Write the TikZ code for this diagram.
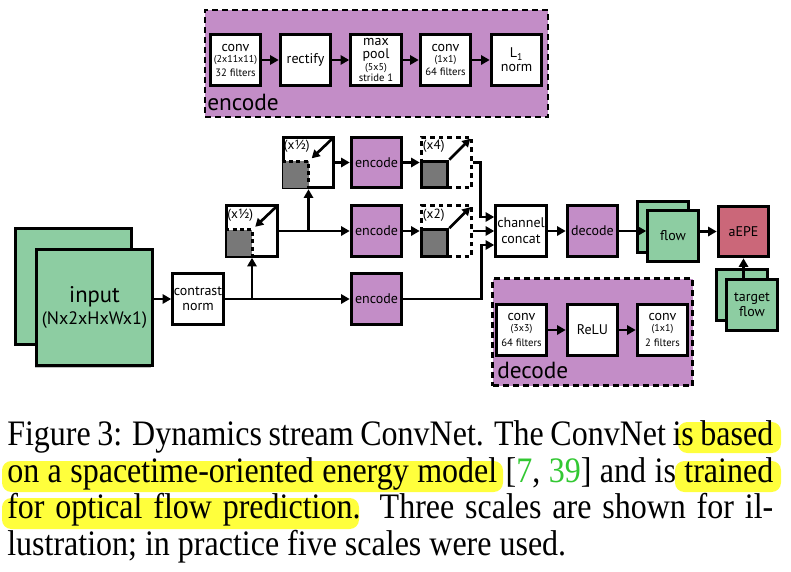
\documentclass[tikz,border=0pt]{standalone}
\usepackage{fontspec}
\setmainfont{PT Sans}
\newfontfamily\capfont{Liberation Serif}
\usetikzlibrary{arrows.meta,shadows,calc}
\definecolor{encpurple}{RGB}{195,141,199}
\definecolor{flowgreen}{RGB}{141,205,162}
\definecolor{epered}{RGB}{203,103,121}
\definecolor{boxgray}{RGB}{120,120,120}
\definecolor{hilite}{RGB}{255,255,60}
\definecolor{citegreen}{RGB}{50,200,50}
\newcommand{\partxt}[1]{{\fontsize{7.5}{7.5}\selectfont #1}}
\newcommand{\filtxt}[1]{{\fontsize{8}{8}\selectfont #1}}
\newcommand{\capscale}[1]{\scalebox{1}[1.12]{#1}}
\begin{document}
\begin{tikzpicture}[x=0.75pt,y=-0.75pt,
  box/.style={draw=black, line width=2.2pt, fill=white, minimum width=38pt, minimum height=38pt,
    inner sep=0pt, align=center, font=\fontsize{10.5}{11}\selectfont},
  pbox/.style={box, fill=encpurple},
  gbox/.style={box, fill=flowgreen},
  rbox/.style={box, fill=epered},
  groupbox/.style={draw=black, fill=encpurple, line width=2.2pt, dash pattern=on 4.5pt off 3pt, inner sep=0pt},
  upbox/.style={box, dash pattern=on 3.5pt off 3pt},
  graysq/.style={draw=black, line width=2.2pt, fill=boxgray, minimum size=20pt, inner sep=0pt},
  biglabel/.style={inner sep=0pt, font=\fontsize{17.5}{17.5}\selectfont},
  scalelabel/.style={inner sep=0pt, font=\fontsize{10}{10}\selectfont},
  conn/.style={line width=2pt, -{Triangle[length=6.5pt,width=7pt]}},
  diag/.style={line width=2pt, -{Triangle[length=6pt,width=6.5pt]}},
  shad/.style={drop shadow={shadow xshift=-1.5pt, shadow yshift=-1.5pt, opacity=0.25, fill=black}},
  hl/.style={fill=hilite, rounded corners=7pt},
  capline/.style={inner sep=0pt, anchor=base west, font=\capfont\fontsize{24}{27.5}\selectfont}
]
\useasboundingbox (0,0) rectangle (791,571);
\fill[white] (0,0) rectangle (791,571);

% ---------------- encode group ----------------
\node[groupbox, minimum width=257.25pt, minimum height=80.25pt] (encgrp) at (376.5,63.5) {};
\node[biglabel, anchor=base west] (enclbl) at (207,110) {encode};
\node[box] (e1) at (235.5,60) {conv\\[-2.75pt]\partxt{(2x11x11)}\\[-0.5pt]\filtxt{32 filters}};
\node[box] (e2) at (305.5,60) {rectify};
\node[box] (e3) at (376,60) {max\\[-1.5pt]pool\\[-2pt]\partxt{(5x5)}\\[-2.75pt]\filtxt{stride 1}};
\node[box] (e4) at (445.5,60) {conv\\[-2.75pt]\partxt{(1x1)}\\[-1pt]\filtxt{64 filters}};
\node[box] (e5) at (516.5,60) {L\textsubscript{1}\\[-0.5pt]norm};
\draw[conn] (e1) -- (e2);
\draw[conn] (e2) -- (e3);
\draw[conn] (e3) -- (e4);
\draw[conn] (e4) -- (e5);

% ---------------- input ----------------
\node[gbox, minimum size=87pt] (inb) at (73.5,286.5) {};
\node[gbox, shad, minimum size=87pt, font=\fontsize{13.5}{16.5}\selectfont] (inf) at (94.5,307.5)
  {{\fontsize{17}{17}\selectfont input}\\(Nx2xHxWx1)};
\node[box] (cn) at (198,299) {contrast\\[0.25pt]norm};

% ---------------- downscale boxes ----------------
\node[box] (h1) at (308.5,162.5) {};
\node[box] (h2) at (252,231) {};
\foreach \h in {h1,h2}{
  \fill[boxgray] ($(\h.south west)+(1.5,-1.5)$) rectangle ($(\h.south west)+(27,-28)$);
  \draw[line width=2pt, dash pattern=on 3pt off 2.5pt] ($(\h.south west)+(0,-28)$) -- ($(\h.south west)+(27,-28)$) -- ($(\h.south west)+(27,0)$);
  \draw[diag] ($(\h.north east)+(-2,2)$) -- ($(\h.south west)+(30,-31)$);
  \node[scalelabel, anchor=west] at ($(\h.north west)+(2,11)$) {(x½)};
}
\node[pbox] (enc1) at (376.5,162.5) {encode};
\node[pbox] (enc2) at (376.5,231) {encode};
\node[pbox] (enc3) at (376.5,299) {encode};

% ---------------- upscale boxes ----------------
\node[upbox] (u4) at (446.5,162.5) {};
\node[upbox] (u2) at (446.5,231) {};
\node[graysq, anchor=south west] (g4) at (u4.south west) {};
\node[graysq, anchor=south west] (g2) at (u2.south west) {};
\draw[diag] (g4.north east) -- ($(u4.north east)+(-3,3)$);
\draw[diag] (g2.north east) -- ($(u2.north east)+(-3,3)$);
\node[scalelabel, anchor=west] at ($(u4.north west)+(3,11)$) {(x4)};
\node[scalelabel, anchor=west] at ($(u2.north west)+(3,11)$) {(x2)};

% ---------------- right part ----------------
\node[box] (cc) at (521,231) {channel\\[1pt]concat};
\node[pbox] (dec) at (592.5,231) {decode};
\node[gbox] (flb) at (663,227) {};
\node[gbox, shad] (flf) at (673,236) {flow};
\node[rbox] (aepe) at (743.5,231.5) {aEPE};
\node[gbox] (tfb) at (742,295) {};
\node[gbox, shad] (tf) at (752,305) {target\\[0.5pt]flow};

% ---------------- decode group ----------------
\node[groupbox, minimum width=150pt, minimum height=80.25pt] (decgrp) at (592.5,332) {};
\node[biglabel, anchor=base west] (declbl) at (497,378) {decode};
\node[box] (d1) at (521.5,330) {conv\\[-2.75pt]\partxt{(3x3)}\\[0pt]\filtxt{64 filters}};
\node[box] (d2) at (592.5,330) {ReLU};
\node[box] (d3) at (662.5,330) {conv\\[-2.75pt]\partxt{(1x1)}\\[0pt]\filtxt{2 filters}};
\draw[conn] (d1) -- (d2);
\draw[conn] (d2) -- (d3);

% ---------------- connectors ----------------
\draw[conn] (inf.east |- cn.west) -- (cn.west);
\draw[conn] (cn.east) -- (enc3.west);
\draw[conn] (cn.east -| h2.south) -- (h2.south);
\draw[conn] (h2.east) -- (enc2.west);
\draw[conn] (h2.east -| h1.south) -- (h1.south);
\draw[conn] (h1.east) -- (enc1.west);
\draw[conn] (enc1.east) -- (enc1.east -| g4.west);
\draw[conn] (enc2.east) -- (enc2.east -| g2.west);
\coordinate (bx) at ($(cc.west)+(-14,0)$);
\draw[conn] (u4.east) -| ($(bx)+(0,-14)$) -- ($(cc.west)+(0,-14)$);
\draw[conn] (u2.east) -- (cc.west);
\draw[conn] (enc3.east) -| ($(bx)+(1.5,14)$) -- ($(cc.west)+(0,14)$);
\draw[conn] (cc.east) -- (dec.west);
\draw[conn] (dec.east) -- (dec.east -| flf.west);
\draw[conn] (flf.east |- aepe.west) -- (aepe.west);
\draw[conn] (tf.north -| aepe.south) -- (aepe.south);

% ---------------- caption ----------------
\fill[hl] (678,422) rectangle (781,453);
\fill[hl] (2,461) rectangle (503,492);
\fill[hl] (675,461) rectangle (781,492);
\fill[hl] (2,498) rectangle (359,529);
\node[capline] (c1) at (7,445) {\capscale{\hbox to 574.5pt{Figure 3: Dynamics stream ConvNet. The ConvNet is based}}};
\node[capline] (c2) at (7,482) {\capscale{\hbox to 574.5pt{on a spacetime-oriented energy model [\textcolor{citegreen}{7}, \textcolor{citegreen}{39}] and is trained}}};
\node[capline] (c3) at (7,518) {\capscale{\hbox to 574.5pt{for optical flow prediction. Three scales are shown for il-}}};
\node[capline] (c4) at (7,555) {\capscale{lustration; in practice five scales were used.}};
\end{tikzpicture}
\end{document}
